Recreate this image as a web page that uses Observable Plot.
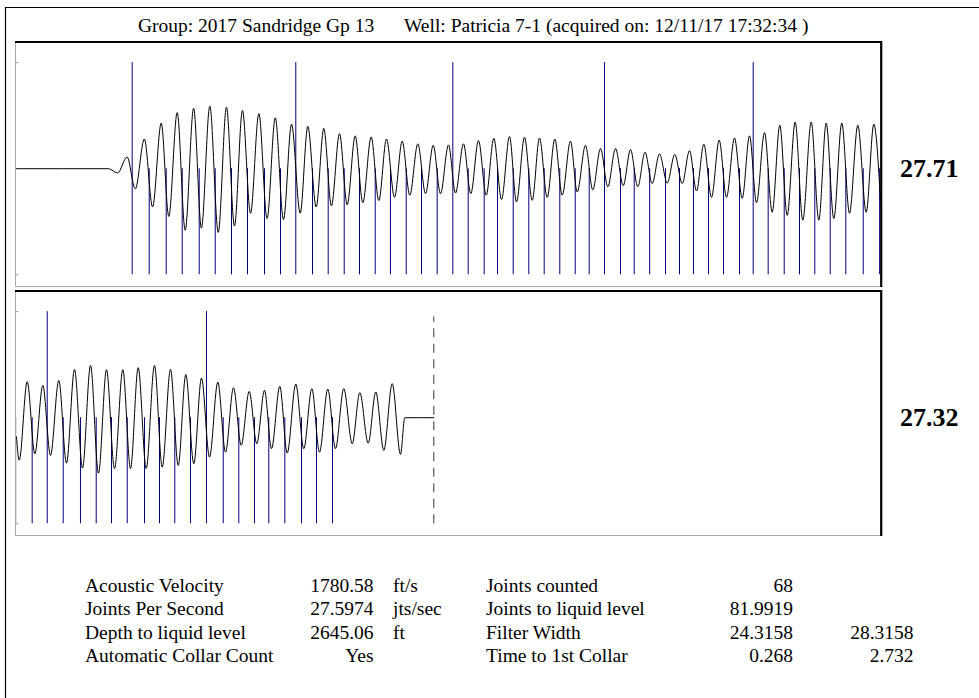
<!DOCTYPE html>
<html>
<head>
<meta charset="utf-8">
<script src="https://cdn.jsdelivr.net/npm/d3@7"></script>
<script src="https://cdn.jsdelivr.net/npm/@observablehq/plot@0.6"></script>
<style>
  html, body { margin: 0; padding: 0; background: #fff; }
  #page { position: relative; width: 979px; height: 698px; overflow: hidden; background: #fff;
          font-family: "Liberation Serif", "Times New Roman", serif; color: #000; }
  .panel { position: absolute; left: 16px; width: 864px; height: 245px; }
  #overlay { position: absolute; left: 0; top: 0; pointer-events: none; }
</style>
</head>
<body>
<div id="page">
  <div class="panel" id="panel1" style="top:42px"></div>
  <div class="panel" id="panel2" style="top:291px"></div>
</div>
<script>
// ---------------- data ----------------
const titleGroup = "Group: 2017 Sandridge Gp 13";
const titleWell = "Well: Patricia 7-1 (acquired on: 12/11/17 17:32:34 )";

// time window of each panel (seconds) and the rate shown to its right
const panelDomains = [[0, 2], [2, 4]];
const panelRates = ["27.71", "27.32"];

// acoustic trace, panel 1: times (s) and amplitudes of the turning points
const wave1Time = [0, 0.213, 0.234, 0.256, 0.275, 0.296, 0.315, 0.335, 0.3525, 0.372, 0.3905, 0.41, 0.428, 0.4475, 0.467, 0.486, 0.5046, 0.523, 0.5417, 0.561, 0.580, 0.599, 0.618, 0.6366, 0.6567, 0.6743, 0.6937, 0.7113, 0.729, 0.7477, 0.7655, 0.784, 0.8016, 0.821, 0.8387, 0.8565, 0.875, 0.8928, 0.9104, 0.929, 0.9468, 0.9646, 0.9815, 1.0, 1.0162, 1.0347, 1.0516, 1.0694, 1.0873, 1.1049, 1.1227, 1.1412, 1.1574, 1.1759, 1.1938, 1.2106, 1.2285, 1.2461, 1.2632, 1.2824, 1.2979, 1.3171, 1.334, 1.3519, 1.3688, 1.3866, 1.4044, 1.4213, 1.4382, 1.4549, 1.4715, 1.4884, 1.5063, 1.5238, 1.541, 1.5579, 1.5741, 1.591, 1.6088, 1.6266, 1.6435, 1.662, 1.6799, 1.6968, 1.713, 1.7315, 1.7493, 1.7669, 1.784, 1.8025, 1.8201, 1.8396, 1.8572, 1.8743, 1.8919, 1.9104, 1.9282, 1.9475, 1.9669, 1.9845, 2.0];
const wave1Amp = [0, 0, -4, 11, -19, 28, -36, 43, -45, 53, -58, 57, -56, 59, -60, 58, -54, 55, -42, 52, -47, 48, -48, 42, -42, 40, -36, 38, -35, 33, -34, 31, -32, 30, -30, 28, -27, 26, -25, 23.5, -23.5, 22, -23.5, 22.5, -23, 23.5, -23.5, 26.6, -25, 28.7, -29, 30.3, -31.4, 29.7, -29.8, 29, -27, 28, -25, 26, -22, 22, -20, 19, -17, 19, -16, 18, -17, 15.6, -14, 14, -13.5, 13.4, -14, 17, -21, 23, -27, 27, -27, 29, -28, 31, -32, 34, -41, 41, -44, 44, -48.5, 44, -48.5, 43, -47, 43, -42, 41, -41, 42, -30];

// acoustic trace, panel 2
const wave2Time = [2.0, 2.0063, 2.0248, 2.0424, 2.0609, 2.0787, 2.0979, 2.1157, 2.1343, 2.1528, 2.1713, 2.1898, 2.2083, 2.2269, 2.2461, 2.2639, 2.2817, 2.3002, 2.3194, 2.3373, 2.3565, 2.3743, 2.3919, 2.4104, 2.4282, 2.4468, 2.466, 2.4838, 2.5023, 2.5201, 2.5387, 2.5562, 2.5741, 2.5903, 2.6095, 2.6266, 2.6465, 2.665, 2.6836, 2.7014, 2.7206, 2.7384, 2.7576, 2.7771, 2.7947, 2.8141, 2.8317, 2.8502, 2.8697, 2.8889, 2.8988, 2.966];
const wave2Amp = [-18, -40, 34, -34, 30.5, -35.6, 35.2, -42.8, 45.6, -47.5, 49.3, -52.3, 45.3, -48, 45.3, -48, 47.2, -48, 49.3, -46.6, 45.6, -45, 40.8, -43.4, 37.4, -37.2, 33.6, -32.5, 28.3, -26, 24.8, -24.5, 25.8, -29.2, 29.5, -33.4, 31.7, -29.2, 27.4, -32.5, 27, -29.2, 27.4, -24.5, 23.6, -24, 24.2, -30.8, 32.1, -34.6, 0, 0];

// detected collars (s); every tenth one is drawn full height
const collarTimes = [0.2678, 0.3072, 0.3465, 0.3836, 0.4229, 0.46, 0.4977, 0.5347, 0.5741, 0.6111, 0.6465, 0.6852, 0.7215, 0.7586, 0.794, 0.8303, 0.8657, 0.9021, 0.9375, 0.9738, 1.01, 1.0456, 1.0826, 1.1134, 1.1498, 1.1859, 1.2215, 1.2576, 1.2933, 1.3257, 1.3611, 1.3981, 1.4299, 1.4657, 1.5023, 1.5347, 1.567, 1.6019, 1.6366, 1.6736, 1.7053, 1.74, 1.7771, 1.8125, 1.8479, 1.8836, 1.9197, 1.96, 1.998, 2.0363, 2.0711, 2.1081, 2.1481, 2.1845, 2.2199, 2.2563, 2.2963, 2.331, 2.3664, 2.4028, 2.4398, 2.4785, 2.5146, 2.5509, 2.584, 2.6211, 2.6597, 2.6944, 2.7315];
const markerCollarTimes = [0.2678, 0.6465, 1.01, 1.3611, 1.7053, 2.0711, 2.4398];

// liquid level echo (s)
const liquidLevelTime = [2.966];

// results table
const leftLabels = ["Acoustic Velocity", "Joints Per Second", "Depth to liquid level", "Automatic Collar Count"];
const leftValues = ["1780.58", "27.5974", "2645.06", "Yes"];
const leftUnits = ["ft/s", "jts/sec", "ft", ""];
const rightLabels = ["Joints counted", "Joints to liquid level", "Filter Width", "Time to 1st Collar"];
const rightValues = ["68", "81.9919", "24.3158", "0.268"];
const rightValues2 = ["", "", "28.3158", "2.732"];

// ---------------- drawing ----------------
const NAVY = "#000080";

function panelPlot(domain, waveT, waveA, showLiquid) {
  const wave = waveT.map((t, i) => ({t, a: waveA[i]}));
  const inWin = t => t >= domain[0] - 0.005 && t <= domain[1] + 0.005;
  const regular = collarTimes.filter(t => inWin(t) && !markerCollarTimes.includes(t));
  const markers = markerCollarTimes.filter(inWin);
  const marks = [
    Plot.ruleY([-100, 100], {x1: domain[0], x2: domain[0] + 0.005, stroke: "#999"}),
    Plot.ruleX(regular, {x: d => d, y1: -100, y2: 0, stroke: NAVY, strokeWidth: 1}),
    Plot.ruleX(markers, {x: d => d, y1: -100, y2: 100, stroke: NAVY, strokeWidth: 1}),
    Plot.line(wave, {x: "t", y: "a", curve: "monotone-x", stroke: "#000", strokeWidth: 1})
  ];
  if (showLiquid) {
    marks.push(Plot.ruleX(liquidLevelTime, {x: d => d, y1: -100, y2: 95, stroke: "#333", strokeWidth: 1, strokeDasharray: "9,6.5"}));
  }
  return Plot.plot({
    width: 864, height: 245, margin: 0,
    x: {domain, axis: null},
    y: {domain: [-112, 119], axis: null},
    style: {overflow: "visible", background: "transparent"},
    marks
  });
}

document.getElementById("panel1").appendChild(panelPlot(panelDomains[0], wave1Time, wave1Amp, false));
document.getElementById("panel2").appendChild(panelPlot(panelDomains[1], wave2Time, wave2Amp, true));

// overlay: page border, panel frames and texts
const svg = d3.select("#page").append("svg").attr("id", "overlay")
  .attr("width", 979).attr("height", 698)
  .style("font-family", '"Liberation Serif", "Times New Roman", serif');

// page border
svg.append("path").attr("d", "M5.5,698 V7.5 H979").attr("fill", "none").attr("stroke", "#000").attr("stroke-width", 1.2);

// panel frames
[[42, 287], [291, 536]].forEach(([top, bottom]) => {
  svg.append("path").attr("d", `M15.5,${top} V${bottom - 0.5} H881`).attr("fill", "none").attr("stroke", "#aaa").attr("stroke-width", 1);
  svg.append("path").attr("d", `M15,${top} H881.2 V${bottom}`).attr("fill", "none").attr("stroke", "#000").attr("stroke-width", 2.2);
});

// title
svg.append("text").attr("x", 138).attr("y", 31.5).attr("font-size", 19.5).text(titleGroup);
svg.append("text").attr("x", 404).attr("y", 31.5).attr("font-size", 19.5).text(titleWell);

// rates to the right of each panel
[176.5, 426].forEach((y, i) => {
  svg.append("text").attr("x", 900).attr("y", y).attr("font-size", 26).attr("font-weight", "bold").text(panelRates[i]);
});

// table
const rowY = [592, 615, 638.5, 662];
rowY.forEach((y, i) => {
  const add = (x, anchor, s) => svg.append("text").attr("x", x).attr("y", y).attr("font-size", 19.5).attr("text-anchor", anchor).text(s);
  add(85, "start", leftLabels[i]);
  add(373.5, "end", leftValues[i]);
  add(393, "start", leftUnits[i]);
  add(486, "start", rightLabels[i]);
  add(793, "end", rightValues[i]);
  add(913.5, "end", rightValues2[i]);
});
</script>
</body>
</html>
